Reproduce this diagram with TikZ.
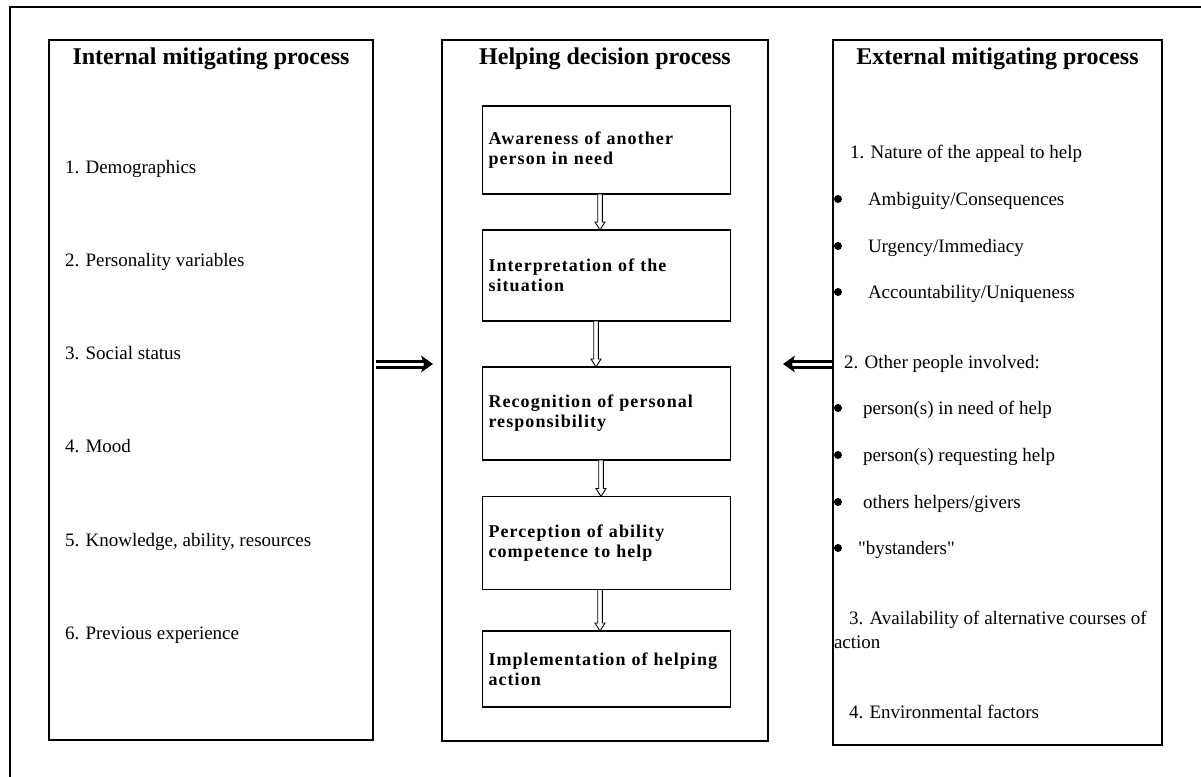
\documentclass[tikz,border=0pt]{standalone}
\usepackage{fontspec}
\setmainfont{Liberation Serif}
\newfontfamily\plainquote{Liberation Serif}[Ligatures=TeXOff]
\usetikzlibrary{calc}
\newcommand\stepfont{\fontsize{18}{20}\selectfont\bfseries\addfontfeature{LetterSpace=6}}
\begin{document}
\begin{tikzpicture}[x=1pt,y=-1pt,
  every node/.style={inner sep=0pt,outer sep=0pt},
  colbox/.style={draw=black,line width=1.3pt,rectangle},
  stepbox/.style={draw=black,line width=1.5pt,rectangle,minimum width=248pt,text width=236pt,inner xsep=6pt,align=left,font=\stepfont},
  headtext/.style={anchor=base,font=\fontsize{24}{28}\selectfont\bfseries},
  itemtext/.style={anchor=base west,font=\fontsize{19}{24}\selectfont},
  hollow/.style={draw=black,line width=0.9pt,fill=white},
  bulletdot/.style={fill=black}]
\useasboundingbox (0,0) rectangle (1201,776);
\clip (0,0) rectangle (1201,776);
% outer frame (only top and left visible)
\draw[line width=1.2pt] (10,7) rectangle (1240,820);

% columns
\node[colbox,minimum width=324pt,minimum height=700pt] (L) at (211,390) {};
\node[colbox,minimum width=326pt,minimum height=701pt] (M) at (605,390.5) {};
\node[colbox,minimum width=329pt,minimum height=705pt] (R) at (997.5,392.5) {};

% headings
\node[headtext] (Lh) at (211,64) {Internal mitigating process};
\node[headtext] (Mh) at (605,64) {Helping decision process};
\node[headtext] (Rh) at (997.5,64) {External mitigating process};

% left column items
\node[itemtext] (l1) at (65,173) {1. Demographics};
\node[itemtext] (l2) at (65,266) {2. Personality variables};
\node[itemtext] (l3) at (65,359) {3. Social status};
\node[itemtext] (l4) at (65,452) {4. Mood};
\node[itemtext] (l5) at (65,546) {5. Knowledge, ability, resources};
\node[itemtext] (l6) at (65,639) {6. Previous experience};

% middle steps
\node[stepbox,minimum height=88pt] (b1) at (606.5,150) {Awareness of another\\person in need};
\node[stepbox,minimum height=91pt] (b2) at (606.5,275.5) {Interpretation of the\\situation};
\node[stepbox,minimum height=93pt] (b3) at (606.5,413.5) {Recognition of personal\\responsibility};
\node[stepbox,minimum height=93pt] (b4) at (606.5,543) {Perception of ability\\competence to help};
\node[stepbox,minimum height=76pt] (b5) at (606.5,669) {Implementation of helping\\action};

% hollow arrows between steps
\foreach \a/\b/\dx in {b1/b2/-6.5,b2/b3/-10.5,b3/b4/-5.5,b4/b5/-6.5}{
  \draw[hollow] let \p1=($(\a.south)+(\dx pt,0pt)$), \p2=($(\b.north)+(\dx pt,0pt)$) in
    (\x1-2.3pt,\y1) -- (\x1+2.3pt,\y1) -- (\x1+2.3pt,\y2+8pt) -- (\x1+5pt,\y2+8pt)
    -- (\x1,\y2) -- (\x1-5pt,\y2+8pt) -- (\x1-2.3pt,\y2+8pt) -- cycle;
}

% right column items
\node[itemtext] (r1) at (850,158) {1. Nature of the appeal to help};
\node[itemtext] (r1a) at (868,205) {Ambiguity/Consequences};
\node[itemtext] (r1b) at (868,252) {Urgency/Immediacy};
\node[itemtext] (r1c) at (868,298) {Accountability/Uniqueness};
\node[itemtext] (r2) at (844,368) {2. Other people involved:};
\node[itemtext] (r2a) at (863,414) {person(s) in need of help};
\node[itemtext] (r2b) at (863,461) {person(s) requesting help};
\node[itemtext] (r2c) at (863,508) {others helpers/givers};
\node[itemtext] (r2d) at (858,554) {{\plainquote "bystanders"}};
\node[itemtext] (r3) at (849,624) {3. Availability of alternative courses of};
\node[itemtext] (r3b) at (834,648) {action};
\node[itemtext] (r4) at (849,718) {4. Environmental factors};
\foreach \y in {199,246,292,408,455,502,548}{
  \fill[bulletdot] (838,\y) circle (4pt);
}

% fat double arrows
\coordinate (la1) at (376,364);
\coordinate (la2) at (433,364);
\coordinate (ra1) at (832,364);
\coordinate (ra2) at (783,364);
\draw[line width=3pt] let \p1=(la1), \p2=(la2) in
  (\x1,\y1+3pt) -- (\x2-9pt,\y1+3pt) (\x1,\y1-3pt) -- (\x2-9pt,\y1-3pt);
\fill let \p2=(la2) in (\x2,\y2) -- (\x2-12pt,\y2+8.5pt) -- (\x2-9pt,\y2) -- (\x2-12pt,\y2-8.5pt) -- cycle;
\draw[line width=3pt] let \p1=(ra1), \p2=(ra2) in
  (\x1,\y1+3pt) -- (\x2+9pt,\y1+3pt) (\x1,\y1-3pt) -- (\x2+9pt,\y1-3pt);
\fill let \p2=(ra2) in (\x2,\y2) -- (\x2+12pt,\y2+8.5pt) -- (\x2+9pt,\y2) -- (\x2+12pt,\y2-8.5pt) -- cycle;
\end{tikzpicture}
\end{document}
